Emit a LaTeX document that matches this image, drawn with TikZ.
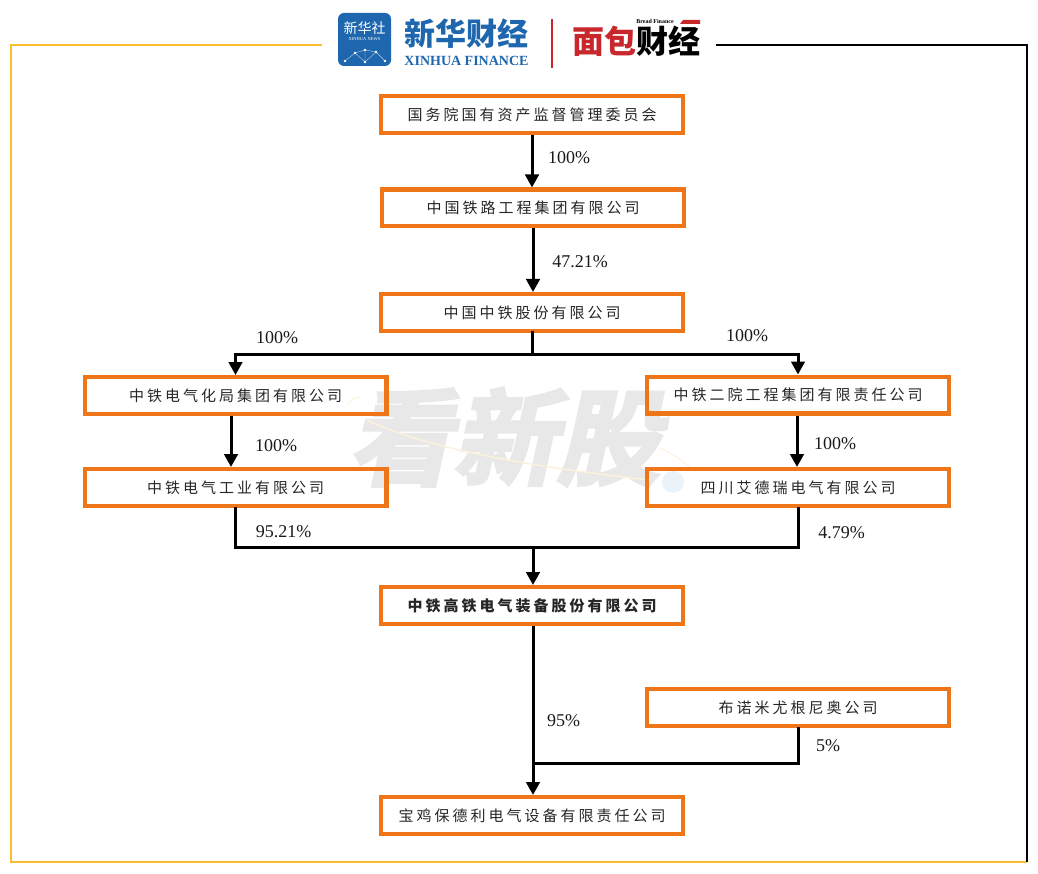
\documentclass[tikz,border=0pt]{standalone}
\usepackage{fontspec}
\setmainfont{Liberation Serif}
\newfontfamily\cjk[LetterSpace=20]{Noto Sans CJK SC}
\newfontfamily\cjklogo{Noto Sans CJK SC}
\newfontfamily\markfont[FakeBold=3]{Noto Sans CJK SC Bold}
\usetikzlibrary{arrows.meta,positioning,calc}
\definecolor{boxorange}{HTML}{EE7518}
\definecolor{framegold}{HTML}{F7BE2D}
\definecolor{xhblue}{HTML}{1E66AE}
\definecolor{bfred}{HTML}{C8282C}
\definecolor{markgray}{HTML}{E8E8E8}
\definecolor{markcream}{HTML}{FCF1DC}
\definecolor{markball}{HTML}{EAF2FA}
\tikzset{
  company/.style={draw=boxorange,line width=4.4pt,minimum width=301.6pt,minimum height=36.6pt,inner sep=0pt,text=black!85,font=\cjk\fontsize{15}{18}\selectfont},
  link/.style={line width=3pt,line cap=rect},
  arrowlink/.style={line width=3pt,-{Triangle[width=13.5pt,length=13pt]}},
  share/.style={font=\fontsize{18}{20}\selectfont,inner sep=0pt,text=black!90}
}
\begin{document}
\begin{tikzpicture}[x=1pt,y=-1pt]
\useasboundingbox (0,0) rectangle (1038,874);
\draw[framegold,line width=2pt] (322,45) -- (11,45) -- (11,862) -- (1027,862);
\draw[black,line width=2pt] (716,45) -- (1027,45) -- (1027,862);

\node[text=markgray,inner sep=0pt,xslant=0.22,transform shape,font=\markfont\fontsize{104}{110}\selectfont] (watermark) at (513,437) {看新股};
\draw[markcream,line width=1.5pt] (367,420) .. controls (430,450) and (540,468) .. (650,480);
\draw[markcream,line width=1pt] (348,405) .. controls (350,400) and (355,398) .. (360,397);
\draw[markcream,line width=1pt] (660,448) .. controls (675,455) and (685,462) .. (693,470);
\fill[markball] (673,482) circle (11);

\node[fill=xhblue,rounded corners=6pt,minimum width=53pt,minimum height=53pt,inner sep=0pt] (icon) at (364.5,39.5) {};
\node[text=white,inner sep=0pt,font=\cjklogo\fontsize{14}{14}\selectfont] (iconname) at (364.5,28) {新华社};
\node[text=white,inner sep=0pt,font=\fontsize{4.5}{5}\selectfont] (iconlatin) at (364.5,39) {XINHUA NEWS};
\coordinate (n1) at (345,61);
\coordinate (n2) at (355,53);
\coordinate (n3) at (365,50);
\coordinate (n4) at (376,52);
\coordinate (n5) at (385,61);
\coordinate (n6) at (365,62);
\draw[white!70!xhblue,line width=.4pt] (n1) -- (n2) -- (n3) -- (n4) -- (n5) (n2) -- (n6) -- (n4) (n3) -- (n6);
\foreach \dot in {n1,n2,n3,n4,n5,n6}
  \fill[white] (\dot) circle (1.3);

\node[text=xhblue,inner sep=0pt,font=\cjklogo\bfseries\fontsize{31}{32}\selectfont] (xhname) at (466,34) {新华财经};
\node[text=xhblue,inner sep=0pt,font=\bfseries\fontsize{14}{15}\selectfont] (xhlatin) at (466.5,61) {XINHUA FINANCE};
\draw[bfred,line width=1.5pt] (552,19) -- (552,68);
\node[inner sep=0pt,font=\cjklogo\bfseries\fontsize{32}{33}\selectfont] (bfname) at (636,41) {\textcolor{bfred}{面包}\textcolor{black}{财经}};
\node[inner sep=0pt,font=\bfseries\fontsize{6}{7}\selectfont] (bflatin) at (655,21) {Bread Finance};
\fill[bfred] (683,20) -- (700,20) -- (700,24) -- (680,24) -- cycle;

\node[company] (guozi) at (532,114.5) {国务院国有资产监督管理委员会};
\node[company] (tielu) at (533,208) {中国铁路工程集团有限公司};
\node[company] (gufen) at (532,312.5) {中国中铁股份有限公司};
\node[company] (dianhua) at (235.5,395.5) {中铁电气化局集团有限公司};
\node[company] (eryuan) at (798,395) {中铁二院工程集团有限责任公司};
\node[company] (gongye) at (235.5,487.5) {中铁电气工业有限公司};
\node[company] (aide) at (798,487.5) {四川艾德瑞电气有限公司};
\node[company,font=\cjk\bfseries\fontsize{15}{18}\selectfont] (gaotie) at (532,605.5) {中铁高铁电气装备股份有限公司};
\node[company] (bunuo) at (798,707.5) {布诺米尤根尼奥公司};
\node[company] (baoji) at (532,815.5) {宝鸡保德利电气设备有限责任公司};

\coordinate (split) at (532,354);
\coordinate (merge) at (533,547);
\coordinate (join) at (533,763);

\draw[arrowlink] (guozi) -- (guozi |- tielu.north);
\draw[arrowlink] (tielu) -- (tielu |- gufen.north);
\draw[link] (gufen) -- (split);
\draw[arrowlink] (split) -| (dianhua.north);
\draw[arrowlink] (split) -| (eryuan.north);
\draw[arrowlink] ([xshift=-4.5pt]dianhua.south) -- ([xshift=-4.5pt]gongye.north);
\draw[arrowlink] ([xshift=-1pt]eryuan.south) -- ([xshift=-1pt]aide.north);
\draw[link] (gongye.south) |- (merge);
\draw[link] (aide.south) |- (merge);
\draw[arrowlink] (merge) -- (merge |- gaotie.north);
\draw[arrowlink] (join |- gaotie.south) -- (join |- baoji.north);
\draw[link] (bunuo.south) |- (join);

\node[share] (p1) at (569,158) {100\%};
\node[share] (p2) at (580,262) {47.21\%};
\node[share] (p3) at (277,338) {100\%};
\node[share] (p4) at (747,336) {100\%};
\node[share] (p5) at (276,446) {100\%};
\node[share] (p6) at (835,444) {100\%};
\node[share] (p7) at (283.5,532) {95.21\%};
\node[share] (p8) at (841.5,533) {4.79\%};
\node[share] (p9) at (563.5,721) {95\%};
\node[share] (p10) at (828,746) {5\%};
\end{tikzpicture}
\end{document}
